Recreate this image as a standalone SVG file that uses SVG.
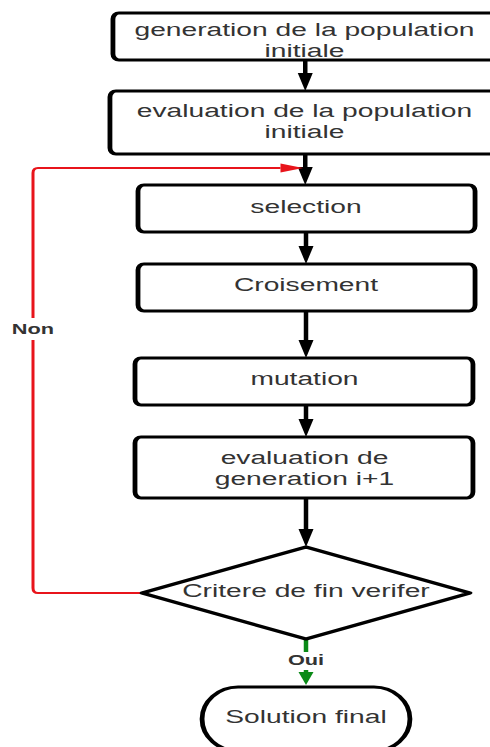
<svg xmlns="http://www.w3.org/2000/svg" width="490" height="747" viewBox="0 0 490 747">
  <style>
    .box { fill: #ffffff; stroke: #000000; stroke-width: 3.2; }
    .lbl { font-family: "Liberation Sans", Arial, sans-serif; font-size: 18.8px; fill: #333333; text-anchor: middle; }
    .tag { font-family: "Liberation Sans", Arial, sans-serif; font-size: 14.5px; font-weight: bold; fill: #333333; text-anchor: middle; }
    .flow { fill: none; stroke: #000000; stroke-width: 3; }
    .no { fill: none; stroke: #e8141b; stroke-width: 2; }
    .yes { fill: none; stroke: #0a8a17; stroke-width: 3; }
  </style>
  <defs>
    <marker id="headBlack" markerUnits="userSpaceOnUse" markerWidth="18" markerHeight="10" refX="0" refY="5" orient="auto" overflow="visible">
      <path d="M0,0 L18,5 L0,10 z" fill="#000000"/>
    </marker>
    <marker id="headRed" markerUnits="userSpaceOnUse" markerWidth="15" markerHeight="10" refX="0" refY="5" orient="auto" overflow="visible">
      <path d="M0,0.5 L15,5 L0,9.5 z" fill="#e8141b"/>
    </marker>
    <marker id="headGreen" markerUnits="userSpaceOnUse" markerWidth="13" markerHeight="10" refX="0" refY="5" orient="auto" overflow="visible">
      <path d="M0,0 L13,5 L0,10 z" fill="#0a8a17"/>
    </marker>
  </defs>
  <rect width="490" height="747" fill="#ffffff"/>
  <!-- the whole chart is laid out on a grid stretched 1.5x horizontally -->
  <g transform="scale(1.5,1)">
    <g id="connectors">
      <line class="flow" x1="203.5" y1="60" x2="203.5" y2="73" marker-end="url(#headBlack)"/>
      <line class="flow" x1="203.5" y1="154" x2="203.5" y2="167" marker-end="url(#headBlack)"/>
      <line class="flow" x1="204" y1="232" x2="204" y2="246" marker-end="url(#headBlack)"/>
      <line class="flow" x1="204" y1="311" x2="204" y2="340" marker-end="url(#headBlack)"/>
      <line class="flow" x1="204" y1="405" x2="204" y2="419" marker-end="url(#headBlack)"/>
      <line class="flow" x1="204" y1="498" x2="204" y2="529" marker-end="url(#headBlack)"/>
      <path class="no" d="M94.7,593 H25.3 Q22,593 22,588 V173 Q22,168 25.3,168 H187" marker-end="url(#headRed)"/>
      <line class="yes" x1="204" y1="639" x2="204" y2="672" marker-end="url(#headGreen)"/>
      <g id="label-non">
        <rect x="9" y="318" width="27" height="22" fill="#ffffff"/>
        <text class="tag" x="22" y="334">Non</text>
      </g>
      <g id="label-oui">
        <rect x="193" y="652" width="22" height="18" fill="#ffffff"/>
        <text class="tag" x="204" y="665">Oui</text>
      </g>
    </g>

    <g id="init-population">
      <rect class="box" x="75.3" y="13" width="256" height="47" rx="4" ry="6"/>
      <text class="lbl" x="203" y="36">generation de la population<tspan x="203" dy="21">initiale</tspan></text>
    </g>
    <g id="eval-population">
      <rect class="box" x="73.3" y="91" width="260" height="63" rx="4" ry="6"/>
      <text class="lbl" x="203" y="117">evaluation de la population<tspan x="203" dy="21">initiale</tspan></text>
    </g>
    <g id="selection">
      <rect class="box" x="92" y="185" width="224.7" height="47" rx="4" ry="6"/>
      <text class="lbl" x="204" y="213">selection</text>
    </g>
    <g id="croisement">
      <rect class="box" x="92" y="264" width="224.7" height="47" rx="4" ry="6"/>
      <text class="lbl" x="204" y="291">Croisement</text>
    </g>
    <g id="mutation">
      <rect class="box" x="90" y="358" width="225.3" height="47" rx="4" ry="6"/>
      <text class="lbl" x="203" y="385">mutation</text>
    </g>
    <g id="eval-generation">
      <rect class="box" x="90" y="437" width="225.3" height="61" rx="4" ry="6"/>
      <text class="lbl" x="203" y="464">evaluation de<tspan x="203" dy="21">generation i+1</tspan></text>
    </g>
    <g id="critere">
      <polygon class="box" points="204,547 313.3,593 204,639 94.7,593" stroke-linejoin="round"/>
      <text class="lbl" x="204" y="597">Critere de fin verifer</text>
    </g>
    <g id="solution">
      <rect class="box" x="134.7" y="687" width="138.6" height="64" rx="24" ry="32"/>
      <text class="lbl" x="204" y="723">Solution final</text>
    </g>
  </g>
</svg>
